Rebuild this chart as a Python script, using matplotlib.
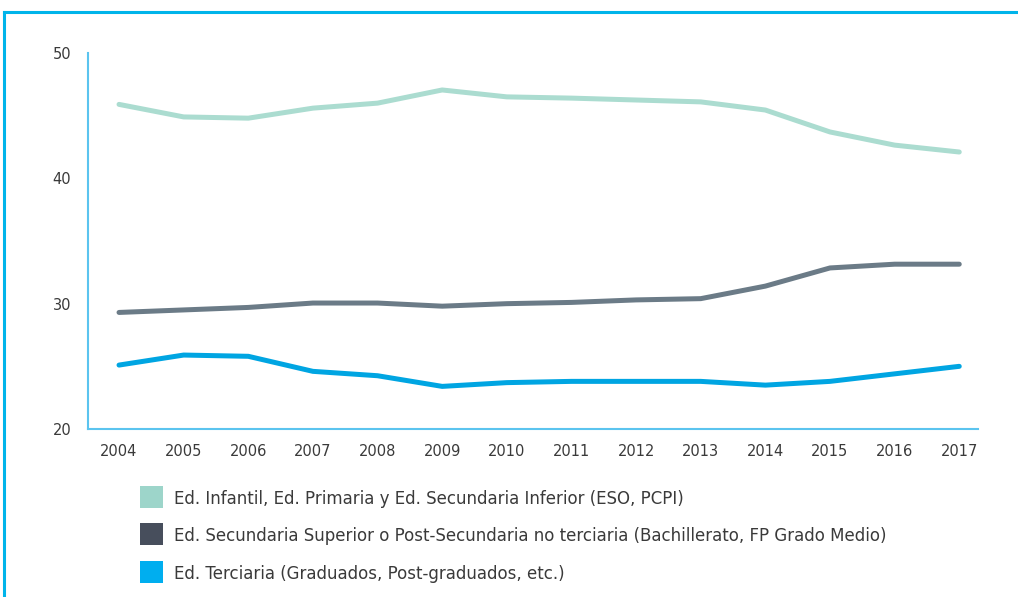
import matplotlib.pyplot as plt
from matplotlib.patches import Rectangle
from matplotlib.lines import Line2D

# Data
years = [2004, 2005, 2006, 2007, 2008, 2009, 2010, 2011, 2012, 2013, 2014, 2015, 2016, 2017]
basica = [45.9, 44.9, 44.8, 45.6, 46.0, 47.05, 46.5, 46.4, 46.25, 46.1, 45.45, 43.7, 42.65, 42.1]
secundaria = [29.3, 29.5, 29.7, 30.05, 30.05, 29.8, 30.0, 30.1, 30.3, 30.4, 31.4, 32.85, 33.15, 33.15]
terciaria = [25.1, 25.9, 25.8, 24.6, 24.25, 23.4, 23.7, 23.8, 23.8, 23.8, 23.5, 23.8, 24.4, 25.0]

labels = [
    "Ed. Infantil, Ed. Primaria y Ed. Secundaria Inferior (ESO, PCPI)",
    "Ed. Secundaria Superior o Post-Secundaria no terciaria (Bachillerato, FP Grado Medio)",
    "Ed. Terciaria (Graduados, Post-graduados, etc.)",
]
yticks = [20, 30, 40, 50]

line_colors = ["#abdcd0", "#6b7b87", "#00a5e2"]
patch_colors = ["#9dd5ca", "#474e5c", "#00aeef"]
frame_color = "#00b4ea"
spine_color = "#5bc4ef"
text_color = "#3a3a3a"

plt.rcParams["font.family"] = ["DejaVu Sans"]

fig = plt.figure(figsize=(10.18, 5.97), dpi=100)
ax = fig.add_axes([88 / 1018, 1 - 429 / 597, 890 / 1018, 376 / 597])

for series, color in zip([basica, secundaria, terciaria], line_colors):
    ax.plot(years, series, color=color, linewidth=3.6, solid_capstyle="round",
            solid_joinstyle="round")

ax.set_xlim(2003.52, 2017.29)
ax.set_ylim(20, 50)
ax.set_xticks(years)
ax.set_yticks(yticks)
ax.tick_params(length=0, labelsize=10.5, colors=text_color)
ax.tick_params(axis="y", pad=12)
ax.tick_params(axis="x", pad=11)

for side in ["top", "right"]:
    ax.spines[side].set_visible(False)
for side in ["left", "bottom"]:
    ax.spines[side].set_color(spine_color)
    ax.spines[side].set_linewidth(1.5)

# Outer frame (top and left lines)
fig.add_artist(Line2D([4 / 1018, 1.0], [1 - 12 / 597, 1 - 12 / 597],
                      color=frame_color, linewidth=2.2, transform=fig.transFigure))
fig.add_artist(Line2D([4 / 1018, 4 / 1018], [0.0, 1 - 12 / 597],
                      color=frame_color, linewidth=2.2, transform=fig.transFigure))

# Legend: square swatches with labels
legend_y = [497, 534, 572]
for lbl, color, yc in zip(labels, patch_colors, legend_y):
    fig.add_artist(Rectangle((140 / 1018, 1 - (yc + 11) / 597), 23 / 1018, 22 / 597,
                             facecolor=color, edgecolor="none",
                             transform=fig.transFigure))
    fig.text(174 / 1018, 1 - (yc + 2) / 597, lbl, fontsize=12, color=text_color,
             va="center", ha="left")

fig.savefig("out.png", dpi=100)
